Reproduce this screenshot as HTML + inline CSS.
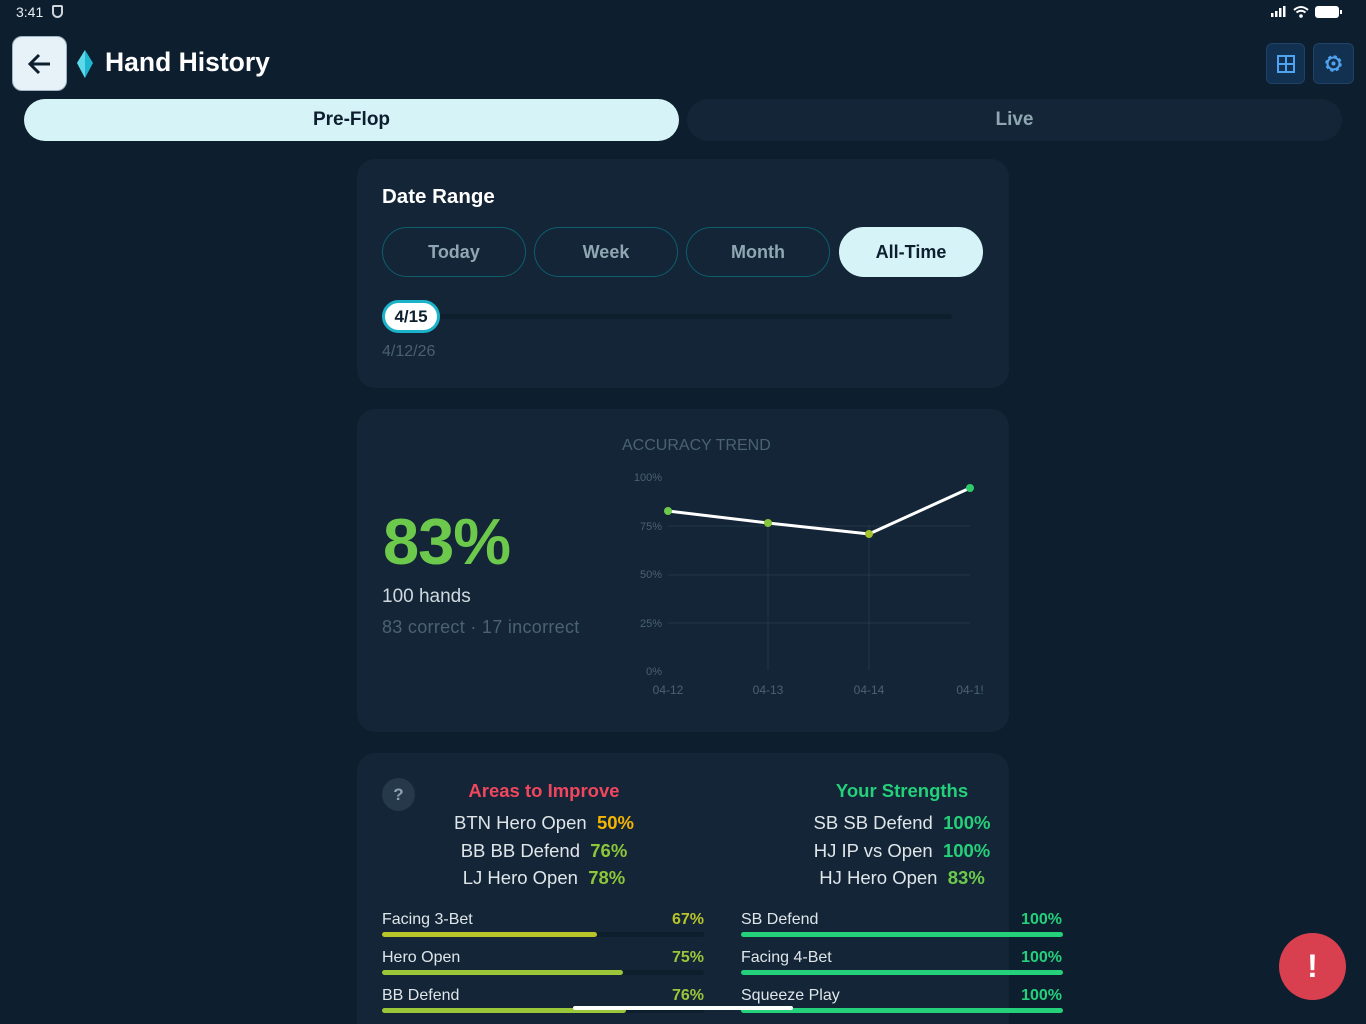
<!DOCTYPE html>
<html><head><meta charset="utf-8"><style>
*{margin:0;padding:0;box-sizing:border-box}
html{width:1366px;height:1024px;overflow:hidden}
body{width:1366px;height:1024px;background:#0d1e2f;font-family:"Liberation Sans",sans-serif;position:relative;overflow:hidden;color:#fff}
.a{position:absolute}
.card{position:absolute;background:#132536;border-radius:18px}
.pill{position:absolute;top:227px;width:144px;height:50px;border:1px solid #0e5e6e;border-radius:25px;color:#8fa7b3;font-weight:bold;font-size:18px;text-align:center;line-height:48px}
.bar{position:absolute;height:5px;border-radius:3px}
.lbl{position:absolute;font-size:16px;color:#dfe6ea}
.pct{position:absolute;font-size:16px;font-weight:bold;text-align:right}
.c{position:absolute;text-align:center;font-size:18.5px;color:#dfe6ea}
</style></head><body>
<div class="a" style="left:16px;top:4px;font-size:14px;color:#e8eef2">3:41</div>
<div class="a" style="left:52px;top:5px;width:11px;height:13px;border:2px solid #cfd6db;border-radius:2px 2px 6px 6px"></div>
<svg class="a" style="left:1268px;top:4px" width="80" height="16"><rect x="3" y="9" width="2.5" height="4" fill="#fff"/><rect x="7" y="7" width="2.5" height="6" fill="#fff"/><rect x="11" y="4" width="2.5" height="9" fill="#fff"/><rect x="15" y="2" width="2.5" height="11" fill="#fff"/><path d="M26 6 Q33 0 40 6 M28.5 8.5 Q33 5 37.5 8.5" stroke="#fff" stroke-width="2" fill="none"/><circle cx="33" cy="12" r="1.8" fill="#fff"/><rect x="47" y="2" width="24" height="12" rx="3" fill="#fff"/><rect x="72" y="6" width="2" height="4" fill="#fff"/></svg>
<div class="a" style="left:12px;top:36px;width:55px;height:55px;background:#e6f1f8;border-radius:10px;border:1px solid #9fb3c2"></div>
<svg class="a" style="left:26px;top:50px" width="28" height="28"><path d="M24 14H5M13 5L4 14L13 23" stroke="#0d1e2f" stroke-width="3" fill="none"/></svg>
<svg class="a" style="left:76px;top:50px" width="18" height="28"><path d="M9 0L17 13L9 28L1 13Z" fill="#1fb6cf"/><path d="M9 0L9 28L1 13Z" fill="#5fd9ea"/></svg>
<div class="a" style="left:105px;top:47px;font-size:26.5px;font-weight:bold">Hand History</div>
<div class="a" style="left:1266px;top:43px;width:39px;height:41px;background:#12304f;border:1px solid #1f4266;border-radius:6px"></div>
<svg class="a" style="left:1277px;top:55px" width="18" height="18"><rect x="1" y="1" width="16" height="16" fill="none" stroke="#4fa3f0" stroke-width="2"/><path d="M9 1V17M1 9H17" stroke="#4fa3f0" stroke-width="2"/></svg>
<div class="a" style="left:1313px;top:43px;width:41px;height:41px;background:#12304f;border:1px solid #1f4266;border-radius:6px"></div>
<svg class="a" style="left:1323px;top:53px" width="21" height="21"><circle cx="10.5" cy="10.5" r="7" fill="none" stroke="#4fa3f0" stroke-width="2.5" stroke-dasharray="3 2.5"/><circle cx="10.5" cy="10.5" r="6" fill="none" stroke="#4fa3f0" stroke-width="2"/><circle cx="10.5" cy="10.5" r="2" fill="#4fa3f0"/></svg>
<div class="a" style="left:24px;top:99px;width:655px;height:42px;background:#d6f4f8;border-radius:21px;color:#0d1e2f;font-weight:bold;font-size:19px;text-align:center;line-height:42px">Pre-Flop</div>
<div class="a" style="left:687px;top:99px;width:655px;height:42px;background:#132536;border-radius:21px;color:#8fa7b3;font-weight:bold;font-size:19px;text-align:center;line-height:42px">Live</div>

<div class="card" style="left:357px;top:159px;width:652px;height:229px"></div>
<div class="a" style="left:382px;top:185px;font-size:20.5px;font-weight:bold">Date Range</div>
<div class="pill" style="left:382px">Today</div>
<div class="pill" style="left:534px">Week</div>
<div class="pill" style="left:686px">Month</div>
<div class="pill" style="left:839px;background:#d6f4f8;border-color:#d6f4f8;color:#0d1e2f">All-Time</div>
<div class="a" style="left:400px;top:314px;width:552px;height:5px;background:#0d1e2c;border-radius:3px"></div>
<div class="a" style="left:382px;top:300px;width:58px;height:33px;background:#fff;border:3px solid #1ab3c9;border-radius:17px;color:#0d1e2f;font-weight:bold;font-size:17px;text-align:center;line-height:27px">4/15</div>
<div class="a" style="left:382px;top:343px;font-size:16px;color:#4a6070">4/12/26</div>

<div class="card" style="left:357px;top:409px;width:652px;height:323px"></div>
<div class="a" style="left:383px;top:504px;font-size:65px;font-weight:bold;color:#6cc94c;letter-spacing:-1px">83%</div>
<div class="a" style="left:382px;top:586px;font-size:19px;color:#cfd9df">100 hands</div>
<div class="a" style="left:382px;top:617px;font-size:18px;color:#4a6272;letter-spacing:0.3px">83 correct · 17 incorrect</div>
<svg class="a" style="left:600px;top:430px" width="400" height="280" font-family="Liberation Sans" font-size="11" fill="#4a6272">
<text x="22" y="20" font-size="16">ACCURACY TREND</text>
<g stroke="#22364a" stroke-width="1"><path d="M68 96H370M68 145H370M68 193H370M168 96V240M269 96V240"/></g>
<g text-anchor="end"><text x="62" y="51">100%</text><text x="62" y="100">75%</text><text x="62" y="148">50%</text><text x="62" y="197">25%</text><text x="62" y="245">0%</text></g>
<g text-anchor="middle" font-size="12"><text x="68" y="264">04-12</text><text x="168" y="264">04-13</text><text x="269" y="264">04-14</text><text x="370" y="264">04-1!</text></g>
<polyline points="68,81 168,93 269,104 370,58" fill="none" stroke="#fff" stroke-width="3"/>
<circle cx="68" cy="81" r="4" fill="#6cc94c"/><circle cx="168" cy="93" r="4" fill="#86c53a"/><circle cx="269" cy="104" r="4" fill="#a6c22e"/><circle cx="370" cy="58" r="4" fill="#2ecc6a"/>
</svg>

<div class="card" style="left:357px;top:753px;width:652px;height:300px"></div>
<div class="a" style="left:382px;top:778px;width:33px;height:33px;border-radius:50%;background:#25394b;color:#8fa0ad;font-weight:bold;font-size:17px;text-align:center;line-height:33px">?</div>
<div class="c" style="left:420px;top:780px;width:248px;color:#f0465e;font-weight:bold">Areas to Improve</div>
<div class="c" style="left:420px;top:812px;width:248px">BTN Hero Open&nbsp; <b style="color:#f5b400">50%</b></div>
<div class="c" style="left:420px;top:840px;width:248px">BB BB Defend&nbsp; <b style="color:#8cc63a">76%</b></div>
<div class="c" style="left:420px;top:867px;width:248px">LJ Hero Open&nbsp; <b style="color:#8cc63a">78%</b></div>
<div class="c" style="left:778px;top:780px;width:248px;color:#25d07a;font-weight:bold">Your Strengths</div>
<div class="c" style="left:778px;top:812px;width:248px">SB SB Defend&nbsp; <b style="color:#25d07a">100%</b></div>
<div class="c" style="left:778px;top:840px;width:248px">HJ IP vs Open&nbsp; <b style="color:#25d07a">100%</b></div>
<div class="c" style="left:778px;top:867px;width:248px">HJ Hero Open&nbsp; <b style="color:#6cc94c">83%</b></div>

<div class="lbl" style="left:382px;top:911px">Facing 3-Bet</div><div class="pct" style="left:604px;width:100px;top:911px;color:#b8c42a">67%</div>
<div class="bar" style="left:382px;top:932px;width:322px;background:#0d1e2c"></div><div class="bar" style="left:382px;top:932px;width:215px;background:#b8c42a"></div>
<div class="lbl" style="left:382px;top:949px">Hero Open</div><div class="pct" style="left:604px;width:100px;top:949px;color:#9ac73a">75%</div>
<div class="bar" style="left:382px;top:970px;width:322px;background:#0d1e2c"></div><div class="bar" style="left:382px;top:970px;width:241px;background:#9ac73a"></div>
<div class="lbl" style="left:382px;top:987px">BB Defend</div><div class="pct" style="left:604px;width:100px;top:987px;color:#9ac73a">76%</div>
<div class="bar" style="left:382px;top:1008px;width:322px;background:#0d1e2c"></div><div class="bar" style="left:382px;top:1008px;width:244px;background:#9ac73a"></div>
<div class="lbl" style="left:741px;top:911px">SB Defend</div><div class="pct" style="left:962px;width:100px;top:911px;color:#25d07a">100%</div>
<div class="bar" style="left:741px;top:932px;width:322px;background:#25d07a"></div>
<div class="lbl" style="left:741px;top:949px">Facing 4-Bet</div><div class="pct" style="left:962px;width:100px;top:949px;color:#25d07a">100%</div>
<div class="bar" style="left:741px;top:970px;width:322px;background:#25d07a"></div>
<div class="lbl" style="left:741px;top:987px">Squeeze Play</div><div class="pct" style="left:962px;width:100px;top:987px;color:#25d07a">100%</div>
<div class="bar" style="left:741px;top:1008px;width:322px;background:#25d07a"></div>
<div class="a" style="left:573px;top:1006px;width:220px;height:4px;background:#fff;border-radius:2px"></div>
<div class="a" style="left:1279px;top:933px;width:67px;height:67px;border-radius:50%;background:#d9404f;color:#fff;font-size:32px;font-weight:bold;text-align:center;line-height:67px">!</div>
</body></html>
